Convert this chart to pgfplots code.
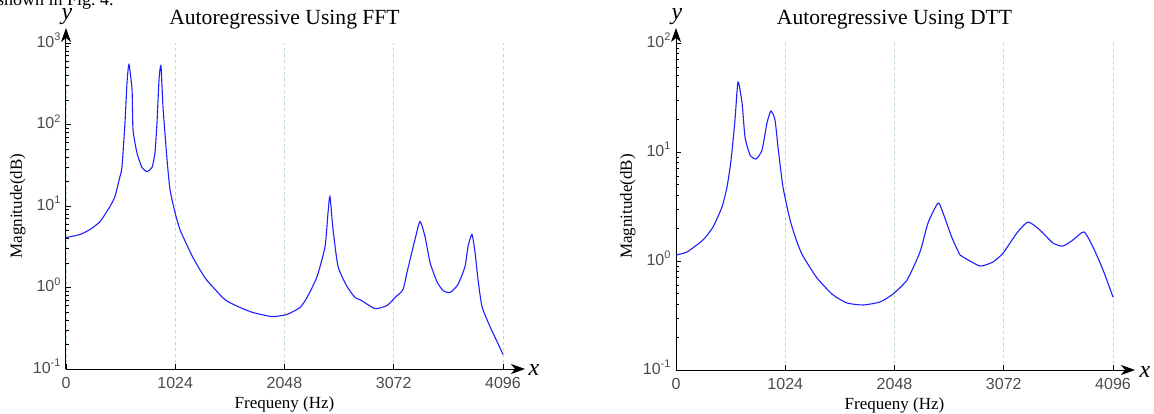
\documentclass[border=0pt]{standalone}
\usepackage{fontspec}
\setmainfont{Liberation Serif}
\newfontfamily\ticksans{Liberation Sans}
\usepackage{pgfplots}
\pgfplotsset{compat=1.18}
\usetikzlibrary{arrows.meta}
\definecolor{curve}{RGB}{30,30,255}
\definecolor{gridg}{RGB}{185,222,185}
\definecolor{tickgray}{RGB}{75,75,75}
\newcommand\tpow[1]{10\raisebox{6.5pt}{\fontsize{11}{11}\selectfont #1}}
\pgfplotsset{myarstyle/.style={
  scale only axis, width=437pt,
  xmin=0, xmax=4096,
  axis lines=left,
  x axis line style={-{Stealth[length=14pt,width=10pt,inset=4pt]}, shorten >=-22pt, line width=1pt, black},
  y axis line style={-{Stealth[length=14pt,width=10pt,inset=4pt]}, shorten >=-15pt, line width=1pt, black},
  xtick={0,1024,2048,3072,4096}, xticklabels={0,1024,2048,3072,4096},
  xmajorgrids, grid style={gridg, dash pattern=on 3pt off 3pt, line width=0.8pt},
  tick align=inside, major tick length=5pt, minor tick length=3pt,
  tick style={black, line width=0.8pt},
  tick label style={font=\ticksans\fontsize{16}{16}\selectfont, text=tickgray},
  xticklabel style={anchor=base, yshift=-19pt},
  yticklabel style={anchor=base east, yshift=-4pt, xshift=-2pt},
  title style={at={(axis description cs:0.5,1)}, anchor=base, yshift=13pt, font=\fontsize{21.6}{24}\selectfont},
  xlabel style={at={(axis description cs:0.5,0)}, anchor=base, yshift=-39pt, font=\fontsize{17}{20}\selectfont},
  ylabel style={at={(axis description cs:-0.11,0.5)}, anchor=center, font=\fontsize{17}{20}\selectfont},
  xlabel={Frequeny (Hz)}, ylabel={Magnitude(dB)},
  clip=false,
}}
\begin{document}
\begin{tikzpicture}
\node[anchor=base west, inner sep=0pt, font=\fontsize{18}{20}\selectfont] at (-3pt,407pt) {shown in Fig.~4.};
\begin{axis}[ymode=log, myarstyle, at={(66pt,44pt)}, anchor=south west, height=326pt,
  ymin=0.1, ymax=1000,
  ytick={0.1,1,10,100,1000}, yticklabels={\tpow{-1},\tpow{0},\tpow{1},\tpow{2},\tpow{3}},
  title={Autoregressive Using FFT}]
\addplot[curve, line width=1.1pt, smooth, tension=0.35] coordinates {
(0,4.1) (131,4.47) (225,5.15) (319,6.45) (412,9.86) (459,13.1) (506,23.0) (525,30.5)
(553,106) (572,327) (590,545) (619,269) (628,87) (665,45) (712,29.7) (759,26.5)
(806,29.7) (834,45) (853,106) (872,356) (890,530) (909,166) (947,37) (975,15.9)
(1022,8.3) (1068,5.15) (1144,3.1) (1190,2.33) (1256,1.65) (1322,1.22) (1490,0.71) (1631,0.569)
(1753,0.493) (1931,0.44) (2071,0.467) (2193,0.569) (2259,0.754) (2353,1.36) (2428,3.18) (2456,8.3)
(2474,13.1) (2503,5.15) (2550,1.81) (2634,1.03) (2709,0.754) (2756,0.71) (2896,0.552)
(3009,0.601) (3084,0.754) (3159,0.945) (3196,1.53) (3271,3.88) (3318,6.45) (3365,4.22)
(3412,2.03) (3477,1.18) (3534,0.919) (3599,0.868) (3674,1.09) (3740,1.81) (3768,3.18)
(3805,4.47) (3834,2.69) (3862,1.25) (3899,0.585) (3974,0.332) (4040,0.217) (4096,0.151)
};
\end{axis}
\node[font=\itshape\fontsize{24}{24}\selectfont] at (67pt,396pt) {y};
\node[font=\itshape\fontsize{24}{24}\selectfont] at (534pt,43pt) {x};
\begin{axis}[ymode=log, myarstyle, at={(676pt,43pt)}, anchor=south west, height=327pt,
  ymin=0.1, ymax=100,
  ytick={0.1,1,10,100}, yticklabels={\tpow{-1},\tpow{0},\tpow{1},\tpow{2}},
  title={Autoregressive Using DTT}]
\addplot[curve, line width=1.1pt, smooth, tension=0.35] coordinates {
(0,1.135) (103,1.21) (253,1.56) (347,2.05) (431,3.13) (478,4.77) (516,8.45) (553,19.7)
(581,43.9) (619,28.2) (647,13.7) (694,9.38) (750,8.63) (806,10.4) (853,18.5) (890,23.8)
(928,19.7) (956,11.1) (1003,4.77) (1069,2.38) (1134,1.49) (1190,1.11) (1322,0.698)
(1472,0.488) (1603,0.412) (1753,0.395) (1912,0.421) (2034,0.498) (2165,0.669)
(2287,1.21) (2362,2.23) (2456,3.40) (2503,2.76) (2587,1.63) (2662,1.135) (2690,1.09)
(2849,0.90) (2971,0.98) (3065,1.18) (3196,1.81) (3299,2.28) (3412,1.92) (3534,1.46)
(3627,1.37) (3721,1.56) (3824,1.85) (3909,1.34) (4002,0.83) (4096,0.468)
};
\end{axis}
\node[font=\itshape\fontsize{24}{24}\selectfont] at (677pt,396pt) {y};
\node[font=\itshape\fontsize{24}{24}\selectfont] at (1145pt,41pt) {x};
\pgfresetboundingbox
\useasboundingbox (0,0) rectangle (1154pt,413pt);
\end{tikzpicture}
\end{document}
